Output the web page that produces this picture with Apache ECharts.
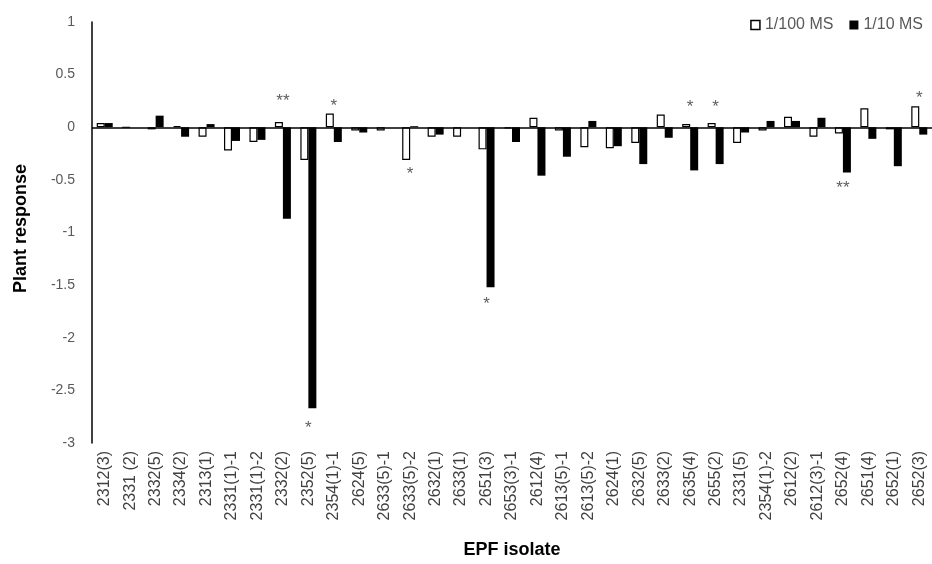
<!DOCTYPE html>
<html><head><meta charset="utf-8">
<script src="https://cdn.jsdelivr.net/npm/echarts@6/dist/echarts.min.js"></script>
<style>html,body{margin:0;padding:0;background:#fff}#c{width:932px;height:564px}</style>
</head><body><div id="c"></div>
<script>
var categories = ['2312(3)','2331 (2)','2332(5)','2334(2)','2313(1)','2331(1)-1','2331(1)-2','2332(2)','2352(5)','2354(1)-1','2624(5)','2633(5)-1','2633(5)-2','2632(1)','2633(1)','2651(3)','2653(3)-1','2612(4)','2613(5)-1','2613(5)-2','2624(1)','2632(5)','2633(2)','2635(4)','2655(2)','2331(5)','2354(1)-2','2612(2)','2612(3)-1','2652(4)','2651(4)','2652(1)','2652(3)'];
var ms100 = [0.04,0,-0.02,0.01,-0.09,-0.22,-0.14,0.05,-0.31,0.13,-0.03,-0.03,-0.31,-0.09,-0.09,-0.21,-0.01,0.09,-0.03,-0.19,-0.20,-0.15,0.12,0.03,0.04,-0.15,-0.03,0.10,-0.09,-0.06,0.18,-0.02,0.20];
var ms10 = [0.04,0,0.11,-0.09,0.03,-0.13,-0.12,-0.87,-2.67,-0.14,-0.05,0,0.01,-0.07,0,-1.52,-0.14,-0.46,-0.28,0.06,-0.18,-0.35,-0.10,-0.41,-0.35,-0.05,0.06,0.06,0.09,-0.43,-0.11,-0.37,-0.07];
var sigCats = ['2332(2)','2352(5)','2354(1)-1','2633(5)-2','2651(3)','2635(4)','2655(2)','2652(4)','2652(3)'];
var sigText = ['**','*','*','*','*','*','*','**','*'];
var sigY = [0.28,-2.82,0.24,-0.41,-1.64,0.23,0.23,-0.54,0.31];
var yTicks = {min:-3, max:1, interval:0.5};

var chart = echarts.init(document.getElementById('c'));
var sigData = sigCats.map(function(c,i){return {value:[c,sigY[i]], name:sigText[i]};});
chart.setOption({
  animation:false,
  grid:{left:92, top:22, width:843, height:425},
  legend:{right:4, top:12, itemWidth:9, itemHeight:9, itemGap:16,
    textStyle:{fontFamily:'Liberation Sans', fontSize:16, color:'#595959'},
    data:[{name:'1/100 MS', icon:'rect', itemStyle:{color:'#fff', borderColor:'#000', borderWidth:1.5}},{name:'1/10 MS', icon:'rect'}]},
  xAxis:{type:'category', data:categories, position:'bottom',
    axisLine:{show:false}, axisTick:{show:false},
    axisLabel:{rotate:90, interval:0, fontFamily:'Liberation Sans', fontSize:16, color:'#404040', margin:8},
    name:'EPF isolate', nameLocation:'middle', nameGap:98,
    nameTextStyle:{fontFamily:'Liberation Sans', fontWeight:'bold', fontSize:18, color:'#000'}},
  yAxis:{type:'value', min:yTicks.min, max:yTicks.max, interval:yTicks.interval,
    axisLine:{show:true, onZero:false, lineStyle:{color:'#000', width:1.5}},
    axisTick:{show:false}, splitLine:{show:false},
    axisLabel:{fontFamily:'Liberation Sans', fontSize:14, color:'#595959', margin:17},
    name:'Plant response', nameLocation:'middle', nameGap:62,
    nameTextStyle:{fontFamily:'Liberation Sans', fontWeight:'bold', fontSize:18, color:'#000', padding:[0,0,0,8]}},
  series:[
    {name:'1/100 MS', type:'bar', data:ms100, barWidth:8, barGap:'0%',
      itemStyle:{color:'#fff', borderColor:'#000', borderWidth:1.2},
      markLine:{silent:true, symbol:'none', label:{show:false}, lineStyle:{color:'#000', width:1.5, type:'solid'}, data:[{yAxis:0}]}},
    {name:'1/10 MS', type:'bar', data:ms10, barWidth:8, barGap:'0%', itemStyle:{color:'#000'}},
    {name:'sig', type:'scatter', data:sigData, symbolSize:0, silent:true,
      label:{show:true, position:'inside', formatter:function(p){return p.name;}, fontFamily:'Liberation Sans', fontSize:17, color:'#333', offset:[0,4]}}
  ]
});
</script></body></html>
